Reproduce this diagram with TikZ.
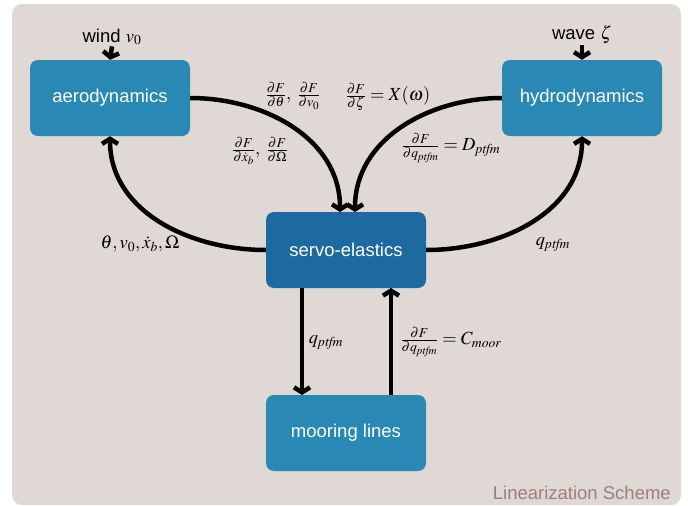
\documentclass[tikz,border=0pt]{standalone}
\usepackage{mathptmx}
\usepackage[no-math]{fontspec}
\setmainfont{Liberation Sans}
\usetikzlibrary{arrows.meta}
\definecolor{bgc}{HTML}{DFD8D5}
\definecolor{boxc}{HTML}{2A89B4}
\definecolor{servoc}{HTML}{1D6AA1}
\definecolor{capc}{HTML}{9C7F78}
\newcommand{\ptfm}{\mathit{ptfm}}
\tikzset{
  blk/.style={rounded corners=8pt, fill=boxc, minimum width=160pt, minimum height=76pt, text=white, inner sep=0pt},
  conn/.style={line width=4.5pt, -{Straight Barb[length=5pt,width=16pt]}},
  lbl/.style={inner sep=1pt}
}
\begin{document}
\begin{tikzpicture}[x=1pt,y=-1pt]
\fontsize{18.5}{22}\selectfont
\useasboundingbox (0,0) rectangle (694,506);
\fill[white] (0,0) rectangle (694,506);
\fill[bgc, rounded corners=10pt] (12,4) rectangle (681,505);
\node[blk] (aero) at (110,98) {aerodynamics};
\node[blk] (hydro) at (582,98) {hydrodynamics};
\node[blk, fill=servoc] (servo) at (346,250) {servo-elastics};
\node[blk] (moor) at (346,433) {mooring lines};
\node[lbl] (wind) at (112,37) {wind $v_0$};
\node[lbl] (wave) at (582,35) {wave $\zeta$};
\coordinate (st1) at (340,212);
\coordinate (st2) at (355,212);
\coordinate (sb1) at (302,288);
\coordinate (sb2) at (391,288);
\coordinate (mt1) at (302,395);
\coordinate (mt2) at (391,395);
\draw[conn] (wind.south) -- (aero.north);
\draw[conn] (wave.south) -- (hydro.north);
\draw[conn] (aero.east) to[out=0,in=90] (st1);
\draw[conn] (hydro.west) to[out=180,in=90] (st2);
\draw[conn] (servo.west) to[out=180,in=-90] (aero.south);
\draw[conn] (servo.east) to[out=0,in=-90] (hydro.south);
\draw[conn] (sb1) -- (mt1);
\draw[conn] (mt2) -- (sb2);
\node[lbl] (l1) at (293,96) {$\frac{\partial F}{\partial \theta},\;\frac{\partial F}{\partial v_0}$};
\node[lbl] (l2) at (260,151) {$\frac{\partial F}{\partial \dot{x}_b},\;\frac{\partial F}{\partial \Omega}$};
\node[lbl] (l3) at (140,244) {$\theta,v_0,\dot{x}_b,\Omega$};
\node[lbl] (l4) at (388,97) {$\frac{\partial F}{\partial \zeta}=X(\omega)$};
\node[lbl] (l5) at (451,148) {$\frac{\partial F}{\partial q_{\ptfm}}=D_{\ptfm}$};
\node[lbl] (l6) at (553,244) {$q_{\ptfm}$};
\node[lbl] (l7) at (326,342) {$q_{\ptfm}$};
\node[lbl] (l8) at (451,342) {$\frac{\partial F}{\partial q_{\ptfm}}=C_{\mathit{moor}}$};
\node[lbl, text=capc, anchor=east] (cap) at (672,493) {Linearization Scheme};
\end{tikzpicture}
\end{document}
